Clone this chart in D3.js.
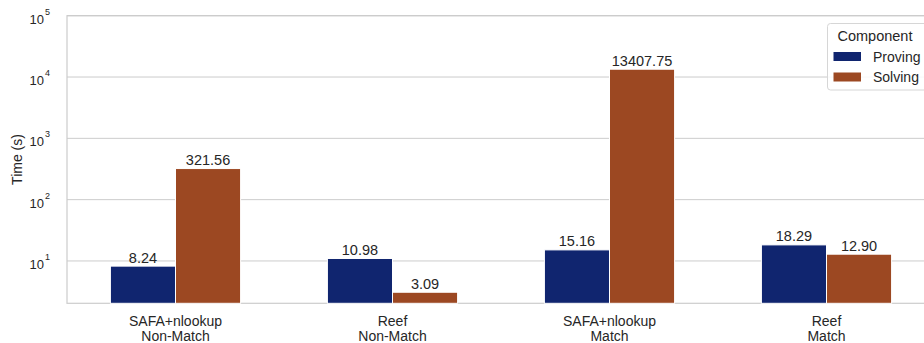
<!DOCTYPE html>
<html>
<head>
<meta charset="utf-8">
<script src="https://cdn.jsdelivr.net/npm/d3@7"></script>
<style>
  html, body { margin: 0; padding: 0; background: #fff; }
  svg { display: block; font-family: "Liberation Sans", Arial, sans-serif; }
</style>
</head>
<body>
<svg id="chart" width="924" height="343"></svg>
<script>
// Categories (two-line labels) and the timing of each component, in seconds
const categories = [
  ["SAFA+nlookup", "Non-Match"],
  ["Reef", "Non-Match"],
  ["SAFA+nlookup", "Match"],
  ["Reef", "Match"]
];
const components = ["Proving", "Solving"];
const provingTimes = [8.24, 10.98, 15.16, 18.29];
const solvingTimes = [321.56, 3.09, 13407.75, 12.90];
const yTickValues = [10, 100, 1000, 10000, 100000];

const palette = { Proving: "#10256f", Solving: "#9c4822" };
const textColor = "#262626";
const gridColor = "#cccccc";

const svg = d3.select("#chart");
const margin = { left: 67, top: 15.7, bottom: 303.3 };
const plotRight = 935;

const rows = [];
categories.forEach((c, i) => {
  rows.push({ cat: i, comp: "Proving", value: provingTimes[i] });
  rows.push({ cat: i, comp: "Solving", value: solvingTimes[i] });
});

const x = d3.scaleBand()
  .domain(d3.range(categories.length))
  .range([margin.left, plotRight])
  .paddingInner(0.4)
  .paddingOuter(0.2);

const xInner = d3.scaleBand()
  .domain(components)
  .range([0, x.bandwidth()]);

const y = d3.scaleLog()
  .domain([2.04, 1e5])
  .range([margin.bottom, margin.top]);

// Horizontal grid at every decade
svg.append("g")
  .selectAll("line")
  .data(yTickValues)
  .join("line")
  .attr("x1", margin.left)
  .attr("x2", plotRight)
  .attr("y1", d => y(d))
  .attr("y2", d => y(d))
  .attr("stroke", gridColor)
  .attr("stroke-width", 1);

// Frame of the plotting area
svg.append("rect")
  .attr("x", margin.left)
  .attr("y", margin.top)
  .attr("width", plotRight - margin.left)
  .attr("height", margin.bottom - margin.top)
  .attr("fill", "none")
  .attr("stroke", gridColor)
  .attr("stroke-width", 1.2);

// Bars
const barG = svg.append("g");
barG.selectAll("rect")
  .data(rows)
  .join("rect")
  .attr("x", d => x(d.cat) + xInner(d.comp))
  .attr("width", xInner.bandwidth())
  .attr("y", d => y(d.value))
  .attr("height", d => margin.bottom - y(d.value))
  .attr("fill", d => palette[d.comp])
  .attr("stroke", "#ffffff")
  .attr("stroke-width", 1);

// Value labels above the bars
barG.selectAll("text")
  .data(rows)
  .join("text")
  .attr("x", d => x(d.cat) + xInner(d.comp) + xInner.bandwidth() / 2)
  .attr("y", d => y(d.value) - 3.5)
  .attr("text-anchor", "middle")
  .attr("font-size", 14.5)
  .attr("fill", textColor)
  .text(d => d.value.toFixed(2));

// Y tick labels as 10 with a superscript exponent
const yLab = svg.append("g");
yTickValues.forEach(v => {
  const t = yLab.append("text")
    .attr("x", 50)
    .attr("y", y(v) + 8)
    .attr("text-anchor", "end")
    .attr("font-size", 13)
    .attr("fill", textColor);
  t.append("tspan").text("10");
  t.append("tspan")
    .attr("font-size", 9)
    .attr("dy", -9)
    .attr("dx", 1)
    .text(Math.round(Math.log10(v)));
});

// Y axis title
svg.append("text")
  .attr("transform", `translate(22, ${(margin.top + margin.bottom) / 2}) rotate(-90)`)
  .attr("text-anchor", "middle")
  .attr("font-size", 14)
  .attr("fill", textColor)
  .text("Time (s)");

// X category labels (two lines)
const xLab = svg.append("g");
categories.forEach((lines, i) => {
  const cx = x(i) + x.bandwidth() / 2;
  const t = xLab.append("text")
    .attr("text-anchor", "middle")
    .attr("font-size", 14)
    .attr("fill", textColor);
  lines.forEach((line, k) => {
    t.append("tspan")
      .attr("x", cx)
      .attr("y", 325.7 + k * 15.5)
      .text(line);
  });
});

// Legend
const lg = svg.append("g");
lg.append("rect")
  .attr("x", 827.5)
  .attr("y", 23.5)
  .attr("width", 110)
  .attr("height", 66.5)
  .attr("rx", 3)
  .attr("fill", "#ffffff")
  .attr("fill-opacity", 0.85)
  .attr("stroke", "#d6d6d6")
  .attr("stroke-width", 1);
lg.append("text")
  .attr("x", 837.5)
  .attr("y", 40.5)
  .attr("font-size", 14.5)
  .attr("fill", textColor)
  .text("Component");
components.forEach((c, k) => {
  const cy = 56.5 + k * 20.5;
  lg.append("rect")
    .attr("x", 833.5)
    .attr("y", cy - 4.5)
    .attr("width", 27.5)
    .attr("height", 9)
    .attr("fill", palette[c]);
  lg.append("text")
    .attr("x", 873)
    .attr("y", cy + 5)
    .attr("font-size", 14)
    .attr("fill", textColor)
    .text(c);
});
</script>
</body>
</html>
